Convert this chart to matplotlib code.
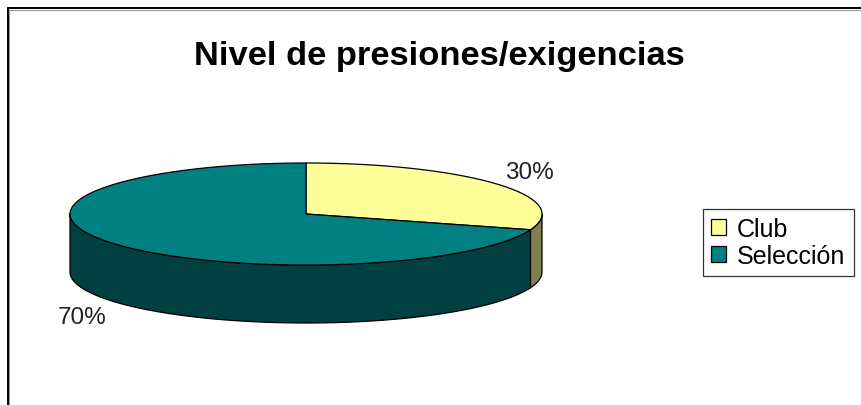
import numpy as np
import matplotlib
matplotlib.use("Agg")
import matplotlib.pyplot as plt
from matplotlib.patches import Polygon, Patch

plt.rcParams["font.family"] = ["Liberation Sans", "DejaVu Sans"]

# ── Data ──
TITLE = "Nivel de presiones/exigencias"
labels = ["Club", "Selección"]
values = [30, 70]

# ── Styles ──
TOP_COLORS = ["#FFFF99", "#008080"]
SIDE_COLORS = ["#80804C", "#004040"]
EDGE = "#000000"

W, H = 862, 406
CX, CY = 306, 215      # centre of top ellipse (px)
RA, RB = 236, 51       # semi axes
DEPTH = 58             # pie thickness
START = 90             # first slice starts at 12 o'clock, clockwise


def ell(theta_deg, dz=0.0):
    t = np.radians(theta_deg)
    return CX + RA * np.cos(t), CY - RB * np.sin(t) + dz


fig = plt.figure(figsize=(W / 100, H / 100), dpi=100, facecolor="white")
ax = fig.add_axes([0, 0, 1, 1])
ax.set_xlim(0, W)
ax.set_ylim(H, 0)
ax.axis("off")

# chart frame (only top / left visible in the crop)
ax.plot([9.5, 9.5, W + 5], [H + 5, 10.5, 10.5], color="#9a9a9a", lw=0.8,
        solid_joinstyle="miter")
ax.plot([8.5, 8.5, W + 5], [H + 5, 9.3, 9.3], color="black", lw=1.4,
        solid_joinstyle="miter")

total = float(sum(values))
spans = []
cum = 0.0
for v in values:
    t1 = START - cum / total * 360
    t2 = t1 - v / total * 360
    spans.append((t2, t1))
    cum += v

# side walls (front half only)
for (t2, t1), col in zip(spans, SIDE_COLORS):
    for k in (-1, 0, 1):
        lo = max(t2, -180 + 360 * k)
        hi = min(t1, 360 * k)
        if hi <= lo:
            continue
        th = np.linspace(lo, hi, 120)
        xt, yt = ell(th)
        xb, yb = ell(th[::-1], DEPTH)
        pts = np.column_stack([np.r_[xt, xb], np.r_[yt, yb]])
        ax.add_patch(Polygon(pts, closed=True, fc=col, ec=EDGE, lw=0.9,
                             joinstyle="round"))

# top faces
for (t2, t1), col in zip(spans, TOP_COLORS):
    th = np.linspace(t1, t2, 300)
    xs, ys = ell(th)
    pts = np.column_stack([np.r_[CX, xs], np.r_[CY, ys]])
    ax.add_patch(Polygon(pts, closed=True, fc=col, ec=EDGE, lw=0.9,
                         joinstyle="round"))

# percentage labels
for (t2, t1), v in zip(spans, values):
    mid = np.radians((t1 + t2) / 2)
    lx = CX + RA * 1.17 * np.cos(mid)
    ly = CY - RB * 1.45 * np.sin(mid)
    if np.sin(mid) < 0:
        ly += DEPTH
    ax.text(lx, ly + 7.5, f"{v / total * 100:.0f}%", ha="center",
            va="baseline", fontsize=17.5, color="#222222")

ax.text(439, 65, TITLE, ha="center", va="baseline", fontsize=24.8,
        fontweight="bold", color="black")

handles = [Patch(fc=c, ec="black", lw=0.9) for c in TOP_COLORS]
leg = fig.legend(handles, labels, loc="upper left",
                 bbox_to_anchor=(703 / W, 1 - 210 / H), fontsize=18,
                 frameon=True, fancybox=False, shadow=False,
                 handlelength=0.6, handleheight=0.6, handletextpad=0.45,
                 borderpad=0.32, labelspacing=0.12, borderaxespad=0)
leg.get_frame().set_edgecolor("black")
leg.get_frame().set_linewidth(0.9)

fig.savefig("out.png", dpi=100, facecolor="white")
